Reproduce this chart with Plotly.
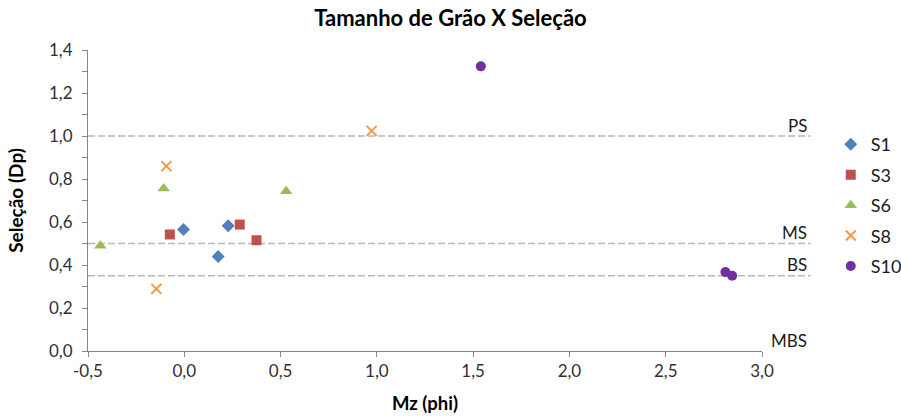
import plotly.graph_objects as go

# Sample data: mean grain size (Mz, phi) vs sorting (Dp)
series_names = ["S1", "S3", "S6", "S8", "S10"]
s1_mz = [-0.004, 0.228, 0.176]
s1_dp = [0.565, 0.582, 0.439]
s3_mz = [-0.075, 0.288, 0.375]
s3_dp = [0.542, 0.588, 0.515]
s6_mz = [-0.436, -0.107, 0.529]
s6_dp = [0.489, 0.756, 0.743]
s8_mz = [-0.093, -0.145, 0.973]
s8_dp = [0.860, 0.289, 1.024]
s10_mz = [1.540, 2.810, 2.845]
s10_dp = [1.324, 0.367, 0.350]

# Sorting classes (lower limit of each class)
class_labels = ["PS", "MS", "BS", "MBS"]
class_limits = [1.0, 0.5, 0.35, 0.0]

x_ticks = [-0.5, 0.0, 0.5, 1.0, 1.5, 2.0, 2.5, 3.0]
y_ticks = [0.0, 0.2, 0.4, 0.6, 0.8, 1.0, 1.2, 1.4]

FONT = "Lato"
AXIS_GREY = "#868686"
styles = {
    "S1": dict(symbol="diamond", color="#4F81BD", size=10),
    "S3": dict(symbol="square", color="#C0504D", size=10),
    "S6": dict(symbol="triangle-up", color="#9BBB59", size=11),
    "S8": dict(symbol="x-thin", color="#F79646", size=10),
    "S10": dict(symbol="circle", color="#7030A0", size=10),
}
data = {
    "S1": (s1_mz, s1_dp),
    "S3": (s3_mz, s3_dp),
    "S6": (s6_mz, s6_dp),
    "S8": (s8_mz, s8_dp),
    "S10": (s10_mz, s10_dp),
}

fig = go.Figure()
for name in series_names:
    xs, ys = data[name]
    st = styles[name]
    marker = dict(symbol=st["symbol"], size=st["size"], color=st["color"])
    if st["symbol"] == "x-thin":
        marker["line"] = dict(color=st["color"], width=2)
    else:
        marker["line"] = dict(width=0)
    fig.add_trace(go.Scatter(x=xs, y=ys, mode="markers", name=name,
                             legendgroup=name, marker=marker, cliponaxis=False))

line_end = 1.072  # dashed guides run past the last x tick
for lab, lim in zip(class_labels, class_limits):
    if lim > 0:
        fig.add_shape(type="line", xref="paper", yref="y", x0=0, x1=line_end,
                      y0=lim, y1=lim,
                      line=dict(color="#B8B8B8", width=1.5, dash="7px,3px"),
                      layer="below")
    fig.add_annotation(xref="paper", yref="y", x=line_end - 0.003, y=lim,
                       text=lab, showarrow=False, xanchor="right",
                       yanchor="middle", yshift=11,
                       font=dict(family=FONT, size=17, color="#1a1a1a"))

fig.update_layout(
    width=901, height=416,
    margin=dict(l=88, r=139, t=50, b=65, autoexpand=False),
    paper_bgcolor="white", plot_bgcolor="white",
    title=dict(text="<b>Tamanho de Grão X Seleção</b>", x=0.5, xref="container",
               xanchor="center", y=0.957, yanchor="middle",
               font=dict(family=FONT, size=22, color="black")),
    legend=dict(x=1.102, y=0.747, xanchor="left", yanchor="top",
                font=dict(family=FONT, size=18, color="#1a1a1a"),
                tracegroupgap=4, itemwidth=30, bgcolor="rgba(0,0,0,0)"),
    showlegend=True,
)
fig.update_xaxes(
    range=[-0.5, 3.0], tickvals=x_ticks,
    ticktext=[f"{v:.1f}".replace(".", ",") for v in x_ticks],
    showgrid=False, zeroline=False, showline=True, linecolor=AXIS_GREY,
    linewidth=1, ticks="outside", ticklen=5, tickcolor=AXIS_GREY,
    tickfont=dict(family=FONT, size=17, color="#303030"),
    title=dict(text="<b>Mz (phi)</b>", standoff=16,
               font=dict(family=FONT, size=18.5, color="black")),
)
fig.update_yaxes(
    range=[0.0, 1.4], tickvals=y_ticks,
    ticktext=[f"{v:.1f}".replace(".", ",") for v in y_ticks],
    showgrid=False, zeroline=False, showline=True, linecolor=AXIS_GREY,
    linewidth=1, ticks="outside", ticklen=5, tickcolor=AXIS_GREY,
    minor=dict(dtick=0.1, ticks="outside", ticklen=5, tickcolor=AXIS_GREY),
    ticklabelstandoff=6,
    tickfont=dict(family=FONT, size=17, color="#303030"),
    title=dict(text="<b>Seleção (Dp)</b>", standoff=20,
               font=dict(family=FONT, size=19, color="black")),
)

fig.write_html("out.html")
